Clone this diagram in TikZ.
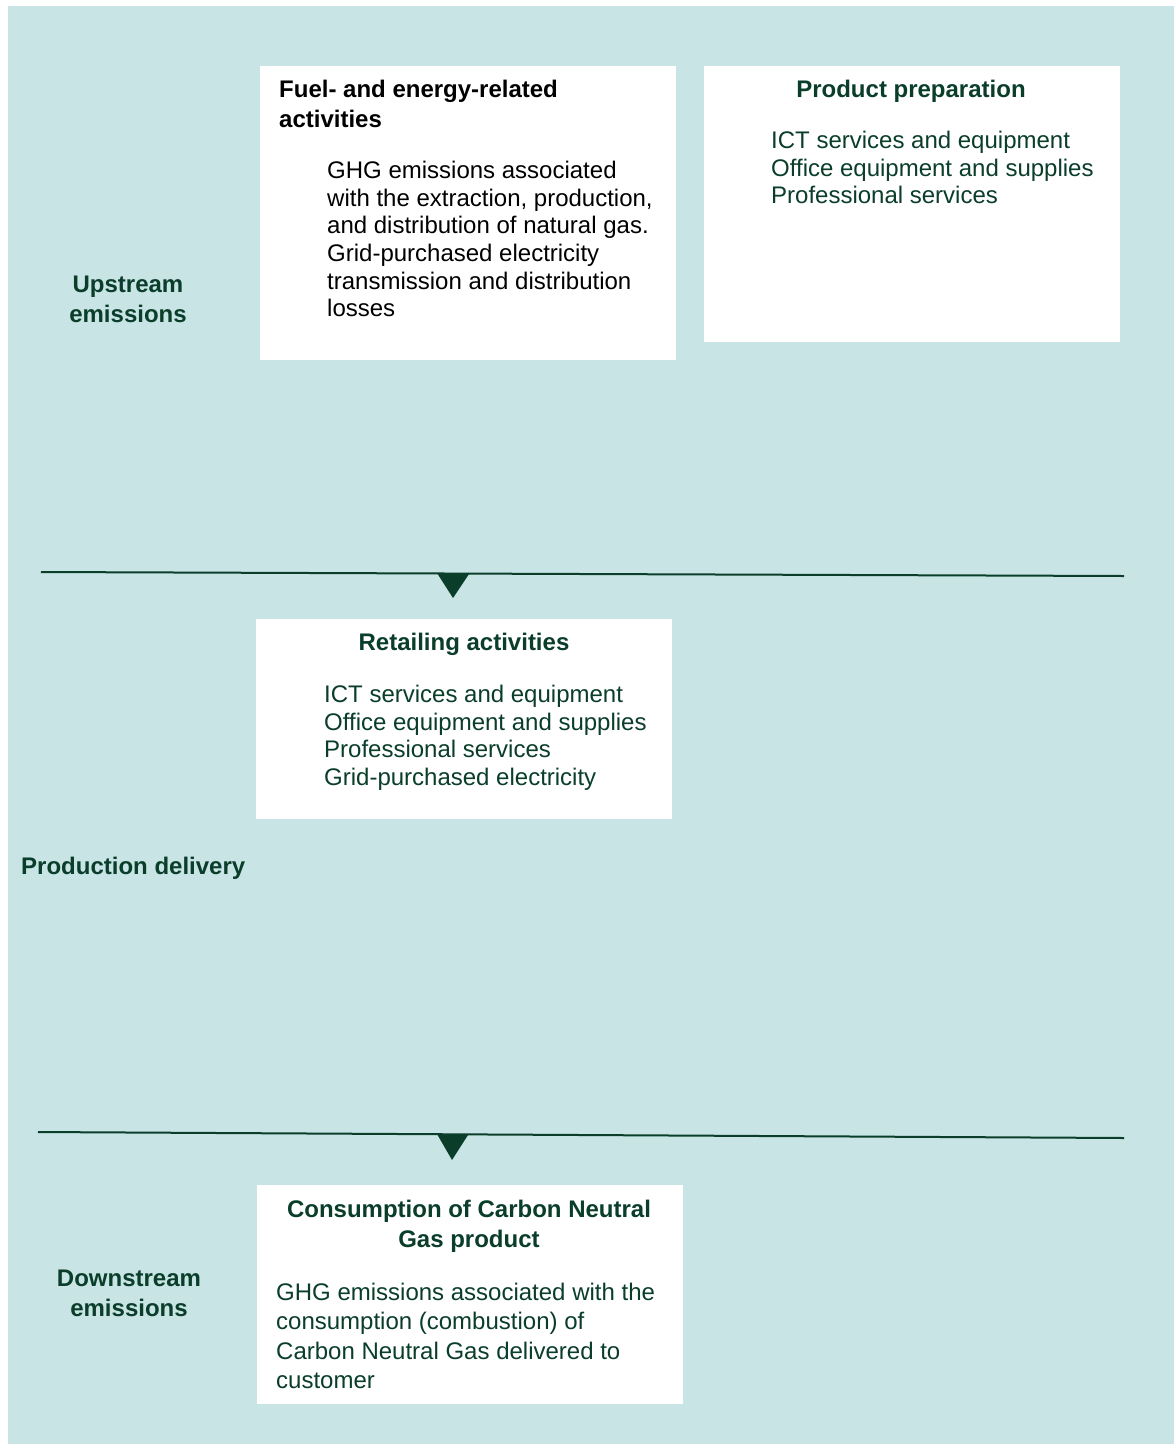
\documentclass[tikz,border=0pt]{standalone}
\usepackage{fontspec}
\setmainfont{Liberation Sans}
\definecolor{bgteal}{RGB}{200,228,228}
\definecolor{darkgreen}{RGB}{10,62,42}

\begin{document}
\begin{tikzpicture}[x=1pt,y=-1pt,
  whitebox/.style={fill=white,draw=none,anchor=north west,inner sep=0},
  head/.style={font=\fontsize{24}{30}\selectfont\bfseries,text=darkgreen,inner sep=0},
  body/.style={font=\fontsize{24}{27.6}\selectfont,text=darkgreen,align=left,anchor=north west,inner sep=0},
  rule/.style={draw=darkgreen,line width=2pt},
  marker/.style={fill=darkgreen}]
\useasboundingbox (0,0) rectangle (1174,1444);
\fill[bgteal] (8,6) rectangle (1174,1444);
\node[whitebox,minimum width=416,minimum height=294] (fuelbox) at (260,66) {};
\node[whitebox,minimum width=416,minimum height=276] (prepbox) at (704,66) {};
\node[whitebox,minimum width=416,minimum height=200] (retailbox) at (256,619) {};
\node[whitebox,minimum width=426,minimum height=219] (consbox) at (257,1185) {};
\node[head,text=black,align=left,anchor=north west] (fueltitle) at (279,76.5) {\strut Fuel- and energy-related\\activities};
\node[body,text=black] (fueltext) at (327,159.2) {\strut GHG emissions associated\\with the extraction, production,\\and distribution of natural gas.\\Grid-purchased electricity\\transmission and distribution\\losses};
\node[head,anchor=north] (preptitle) at (911,76.5) {\strut Product preparation};
\node[body] (preptext) at (771,129.2) {\strut ICT services and equipment\\Office equipment and supplies\\Professional services};
\node[head,anchor=north] (retailtitle) at (464,629.5) {\strut Retailing activities};
\node[body] (retailtext) at (324,683.2) {\strut ICT services and equipment\\Office equipment and supplies\\Professional services\\Grid-purchased electricity};
\node[head,align=center,anchor=north] (constitle) at (469,1196.5) {\strut Consumption of Carbon Neutral\\Gas product};
\node[body,font=\fontsize{24}{29.4}\selectfont] (constext) at (276,1279.5) {\strut GHG emissions associated with the\\consumption (combustion) of\\Carbon Neutral Gas delivered to\\customer};
\node[head,align=center,anchor=north] (upstream) at (128,271.5) {\strut Upstream\\emissions};
\node[head,anchor=north west] (delivery) at (21,853.5) {\strut Production delivery};
\node[head,align=center,anchor=north] (downstream) at (129,1265.5) {\strut Downstream\\emissions};
\coordinate (ruleAa) at (41,572);
\coordinate (ruleAb) at (1124,576);
\coordinate (ruleBa) at (38,1132);
\coordinate (ruleBb) at (1124,1138);
\draw[rule] (ruleAa) -- (ruleAb);
\draw[rule] (ruleBa) -- (ruleBb);
\fill[marker] (437,573) -- (469,574) -- (453,598) -- cycle;
\fill[marker] (437,1134) -- (468,1135) -- (452,1160) -- cycle;
\end{tikzpicture}
\end{document}
